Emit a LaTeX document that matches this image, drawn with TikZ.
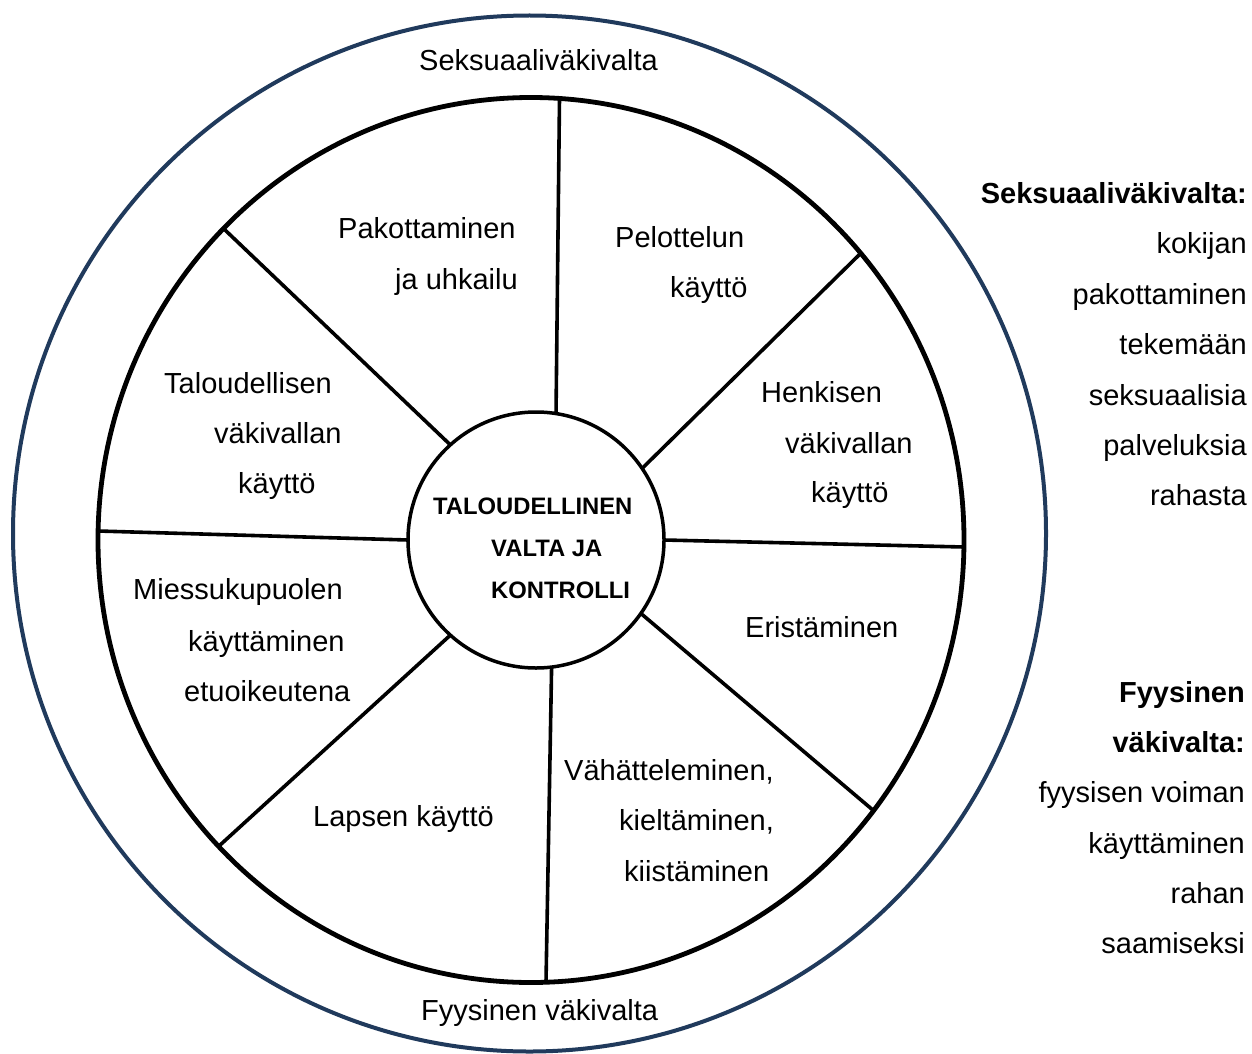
\documentclass[tikz,border=0pt]{standalone}
\usepackage{fontspec}
\setmainfont{Liberation Sans}
\definecolor{navyring}{HTML}{203A5C}
\begin{document}
\begin{tikzpicture}[x=1pt,y=-1pt,
  lbl/.style={inner sep=0pt, anchor=base west, font=\fontsize{29}{35}\selectfont},
  rlbl/.style={inner sep=0pt, anchor=base east, font=\fontsize{29}{35}\selectfont},
  rhead/.style={inner sep=0pt, anchor=base east, font=\fontsize{29}{35}\selectfont\bfseries},
  clbl/.style={inner sep=0pt, anchor=base west, font=\fontsize{23.8}{28}\selectfont\bfseries},
  spoke/.style={line width=3.6pt, black},
  ]
\useasboundingbox (0,0) rectangle (1252,1054);
\fill[white] (0,0) rectangle (1252,1054);
% outer ring
\draw[line width=4pt, navyring] (529.5,533.5) ellipse [x radius=516.5pt, y radius=518pt];
% wheel
\draw[line width=4.8pt] (531,540) ellipse [x radius=433pt, y radius=442.5pt];
% wheel ends of spokes
\coordinate (o1) at (559.5,98);
\coordinate (o2) at (860,254);
\coordinate (o3) at (964,547);
\coordinate (o4) at (874,811);
\coordinate (o5) at (546,982);
\coordinate (o6) at (219,846);
\coordinate (o7) at (98,531);
\coordinate (o8) at (224,229);
% centre
\node[draw, circle, line width=3.5pt, minimum size=256pt, inner sep=0pt, outer sep=0pt, fill=white] (ctr) at (536,540) {};
\draw[spoke] (ctr.81) -- (o1);
\draw[spoke] (ctr.34.3) -- (o2);
\draw[spoke] (ctr.0.4) -- (o3);
\draw[spoke] (ctr.-35.5) -- (o4);
\draw[spoke] (ctr.-83.3) -- (o5);
\draw[spoke] (ctr.-132.5) -- (o6);
\draw[spoke] (ctr.180.4) -- (o7);
\draw[spoke] (ctr.132.8) -- (o8);
% centre text
\node[clbl] (c1) at (433,514) {TALOUDELLINEN};
\node[clbl] (c2) at (491,556) {VALTA JA};
\node[clbl] (c3) at (491,598) {KONTROLLI};
% ring labels
\node[lbl] (r1) at (419,71) {Seksuaaliväkivalta};
\node[lbl] (r2) at (421,1020) {Fyysinen väkivalta};
% segment labels
\node[lbl] (a1) at (338,238) {Pakottaminen};
\node[lbl] (a2) at (395,289) {ja uhkailu};
\node[lbl] (b1) at (615,247) {Pelottelun};
\node[lbl] (b2) at (670,297) {käyttö};
\node[lbl] (d1) at (164,393) {Taloudellisen};
\node[lbl] (d2) at (214,443) {väkivallan};
\node[lbl] (d3) at (238,493) {käyttö};
\node[lbl] (e1) at (761,402) {Henkisen};
\node[lbl] (e2) at (785,453) {väkivallan};
\node[lbl] (e3) at (811,502) {käyttö};
\node[lbl] (f1) at (133,599) {Miessukupuolen};
\node[lbl] (f2) at (188,651) {käyttäminen};
\node[lbl] (f3) at (184,701) {etuoikeutena};
\node[lbl] (g1) at (745,637) {Eristäminen};
\node[lbl] (h1) at (313,826) {Lapsen käyttö};
\node[lbl] (k1) at (564,780) {Vähätteleminen,};
\node[lbl] (k2) at (619,830) {kieltäminen,};
\node[lbl] (k3) at (624,881) {kiistäminen};
% right column
\node[rhead] (s0) at (1247,203) {Seksuaaliväkivalta:};
\node[rlbl] (s1) at (1247,253) {kokijan};
\node[rlbl] (s2) at (1247,304) {pakottaminen};
\node[rlbl] (s3) at (1247,354) {tekemään};
\node[rlbl] (s4) at (1247,405) {seksuaalisia};
\node[rlbl] (s5) at (1247,455) {palveluksia};
\node[rlbl] (s6) at (1247,505) {rahasta};
\node[rhead] (p0) at (1245,702) {Fyysinen};
\node[rhead] (p1) at (1245,752) {väkivalta:};
\node[rlbl] (p2) at (1245,802) {fyysisen voiman};
\node[rlbl] (p3) at (1245,853) {käyttäminen};
\node[rlbl] (p4) at (1245,903) {rahan};
\node[rlbl] (p5) at (1245,953) {saamiseksi};
\end{tikzpicture}
\end{document}
